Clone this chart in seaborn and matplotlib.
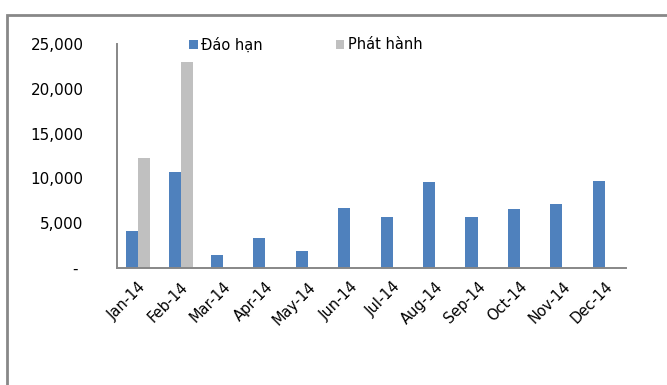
import numpy as np
import pandas as pd
import matplotlib
matplotlib.use("Agg")
import matplotlib.pyplot as plt
from matplotlib.patches import Rectangle
from matplotlib.ticker import FuncFormatter
import seaborn as sns

months = ["Jan-14", "Feb-14", "Mar-14", "Apr-14", "May-14", "Jun-14",
          "Jul-14", "Aug-14", "Sep-14", "Oct-14", "Nov-14", "Dec-14"]
dao_han = [4150, 10700, 1450, 3300, 1950, 6750, 5650, 9650, 5700, 6600, 7150, 9750]
phat_hanh = [12250, 22950, np.nan, np.nan, np.nan, np.nan,
             np.nan, np.nan, np.nan, np.nan, np.nan, np.nan]
series_names = ["Đáo hạn", "Phát hành"]
series_colors = ["#4F81BD", "#C0C0C0"]

df = pd.DataFrame({
    "month": months * 2,
    "series": [series_names[0]] * len(months) + [series_names[1]] * len(months),
    "value": dao_han + phat_hanh,
})

sns.set_theme(style="white")
plt.rcParams["font.family"] = ["DejaVu Sans"]

fig = plt.figure(figsize=(6.67, 3.85), dpi=100)
ax = fig.add_axes([117 / 667, 1 - 268 / 385, (626 - 117) / 667, (268 - 44) / 385])

sns.barplot(data=df, x="month", y="value", hue="series", hue_order=series_names,
            palette=series_colors, order=months, width=0.57, errorbar=None,
            saturation=1, ax=ax, legend=True, edgecolor="none")

ax.set_ylim(0, 25000)
ax.set_yticks(range(0, 25001, 5000))
ax.yaxis.set_major_formatter(FuncFormatter(lambda v, p: "- " if v == 0 else f"{int(v):,}"))
ax.set_xlim(-0.5, len(months) - 0.5)
ax.set_xlabel("")
ax.set_ylabel("")

for side in ["top", "right"]:
    ax.spines[side].set_visible(False)
for side in ["left", "bottom"]:
    ax.spines[side].set_color("#878787")
    ax.spines[side].set_linewidth(1.4)

ax.tick_params(axis="y", length=0, pad=24, labelsize=11, labelcolor="black")
ax.tick_params(axis="x", length=0, pad=8, labelsize=10.5, labelcolor="black")
plt.setp(ax.get_xticklabels(), rotation=45, ha="right", rotation_mode="anchor")

leg = ax.legend(loc="upper left", bbox_to_anchor=(0.141, 1.03), ncol=2, frameon=False,
                fontsize=10.5, handlelength=0.6, handleheight=0.6, handletextpad=0.25,
                columnspacing=5.0, borderaxespad=0, borderpad=0, labelcolor="black")

# outer frame around the chart
fig.patches.append(Rectangle((7 / 667, -0.1), 1.2, 1 - 15 / 385 + 0.1,
                             transform=fig.transFigure, fill=False,
                             edgecolor="#888888", linewidth=2.0))

fig.savefig("out.png", dpi=100)
